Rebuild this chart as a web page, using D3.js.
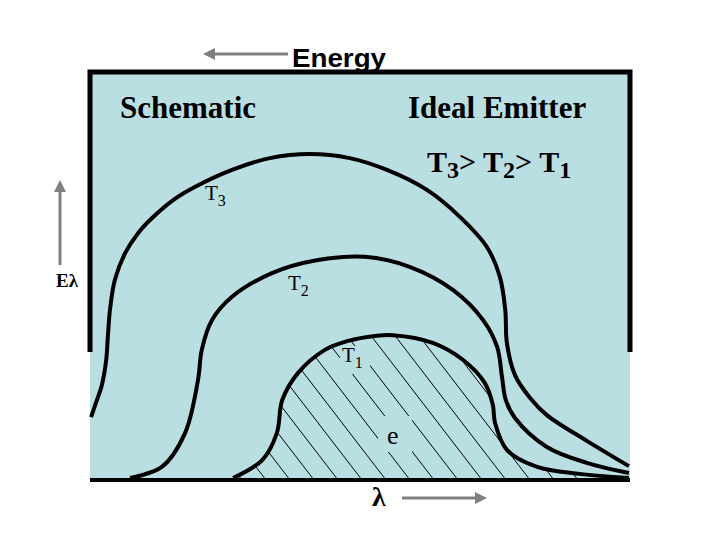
<!DOCTYPE html>
<html><head><meta charset="utf-8">
<script src="https://cdn.jsdelivr.net/npm/d3@7"></script>
<style>body{margin:0;background:#fff}</style>
</head><body>
<script>
// Curves (wavelength 0-100, spectral emissive power 0-100)
const curveNames = ["T3", "T2", "T1"];
const T3 = [[0.2,15.4],[1.1,18.9],[2.2,23.3],[3.0,29.4],[3.3,35.0],[3.7,41.7],[4.6,49.0],[6.5,55.6],[8.9,60.5],[11.5,64.2],[15.4,68.6],[19.4,71.8],[26.3,76.0],[33.3,78.9],[40.7,79.9],[48.1,78.9],[55.0,76.0],[62.4,71.1],[68.5,64.5],[73.5,57.1],[75.9,49.8],[76.9,41.7],[77.2,33.6],[78.7,25.7],[81.5,20.1],[84.6,15.9],[92.0,9.6],[99.8,3.4]];
const T2 = [[7.4,0.5],[13.3,3.2],[17.6,11.5],[20.0,24.5],[20.7,31.9],[22.6,39.2],[26.3,44.9],[33.7,50.7],[42.2,53.9],[50.9,54.7],[59.3,52.2],[67.2,46.6],[72.8,39.2],[75.4,32.6],[76.3,25.2],[77.0,19.6],[78.7,15.2],[84.6,8.1],[92.0,4.2],[99.8,1.7]];
const T1 = [[26.5,0.5],[31.9,4.9],[34.6,11.5],[35.6,19.6],[38.5,26.2],[43.5,31.9],[47.8,34.1],[52.8,35.3],[56.1,35.5],[63.5,33.6],[69.1,29.4],[73.1,23.8],[74.6,18.4],[75.0,14.0],[77.2,7.4],[82.8,3.2],[90.7,1.5],[99.8,0.5]];
const titleLeft = "Schematic";
const titleRight = "Ideal Emitter";
const topAxisLabel = "Energy";
const leftAxisLabel = "Eλ";
const bottomAxisLabel = "λ";

const W = 720, H = 540;
const x = d3.scaleLinear().domain([0, 100]).range([90, 630]);
const y = d3.scaleLinear().domain([0, 100]).range([480, 72]);

const svg = d3.select("body").append("svg").attr("width", W).attr("height", H);
const fill = "#badfe3";

const defs = svg.append("defs");
defs.append("marker").attr("id", "ah").attr("viewBox", "0 0 10 10")
  .attr("refX", 5).attr("refY", 5).attr("markerWidth", 4).attr("markerHeight", 4)
  .attr("orient", "auto-start-reverse").attr("markerUnits", "strokeWidth")
  .append("path").attr("d", "M0,0 L10,5 L0,10 z").attr("fill", "#808080");

// background panel
svg.append("rect").attr("x", x(0)).attr("y", y(100))
  .attr("width", x(100) - x(0)).attr("height", y(0) - y(100)).attr("fill", fill);

const line = d3.line().x(d => x(d[0])).y(d => y(d[1])).curve(d3.curveCatmullRom.alpha(0.5));

// hatched area under T1
const area = d3.area().x(d => x(d[0])).y0(y(0)).y1(d => y(d[1])).curve(d3.curveCatmullRom.alpha(0.5));
defs.append("clipPath").attr("id", "clipT1").append("path").attr("d", area(T1));
const hatch = svg.append("g").attr("clip-path", "url(#clipT1)");
const slope = 1.3, step = 24;
d3.range(x(0) - 400, x(100) + 40, step).forEach(b => {
  hatch.append("line").attr("x1", b - (y(0) - y(40)) / slope).attr("y1", y(40))
    .attr("x2", b).attr("y2", y(0)).attr("stroke", "#000").attr("stroke-width", 1);
});
// gaps behind labels inside hatch
hatch.append("rect").attr("x", 340).attr("y", 346).attr("width", 30).attr("height", 28).attr("fill", fill);
hatch.append("rect").attr("x", 378).attr("y", 416).attr("width", 34).attr("height", 36).attr("fill", fill);

// curves
[T3, T2, T1].forEach(c => {
  svg.append("path").attr("d", line(c)).attr("fill", "none")
    .attr("stroke", "#000").attr("stroke-width", 4);
});

// frame
const fr = svg.append("g").attr("stroke", "#000").attr("stroke-width", 5).attr("fill", "none");
fr.append("path").attr("d", `M${x(0)},${y(31.4)} L${x(0)},${y(100)} L${x(100)},${y(100)} L${x(100)},${y(31.4)}`)
  .attr("stroke-linejoin", "miter");
fr.append("line").attr("x1", x(0)).attr("x2", x(100)).attr("y1", y(0)).attr("y2", y(0)).attr("stroke-width", 4);

// arrows
const ar = svg.append("g").attr("stroke", "#808080").attr("stroke-width", 3);
ar.append("line").attr("x1", 288).attr("y1", 54).attr("x2", 209).attr("y2", 54).attr("marker-end", "url(#ah)");
ar.append("line").attr("x1", 402).attr("y1", 498).attr("x2", 481).attr("y2", 498).attr("marker-end", "url(#ah)");
ar.append("line").attr("x1", 60).attr("y1", 265).attr("x2", 60).attr("y2", 186).attr("marker-end", "url(#ah)");

// texts
const serif = "'Liberation Serif','Times New Roman',serif";
svg.append("text").attr("x", 292).attr("y", 67).attr("font-family", "'Liberation Sans',Arial,sans-serif")
  .attr("font-weight", "bold").attr("font-size", 25).attr("textLength", 94).attr("lengthAdjust", "spacingAndGlyphs")
  .text(topAxisLabel);
svg.append("text").attr("x", 120).attr("y", 118).attr("font-family", serif)
  .attr("font-weight", "bold").attr("font-size", 31).text(titleLeft);
svg.append("text").attr("x", 408).attr("y", 118).attr("font-family", serif)
  .attr("font-weight", "bold").attr("font-size", 31).text(titleRight);

function sub(xp, yp, main, s, size, subSize, bold) {
  const t = svg.append("text").attr("x", xp).attr("y", yp).attr("font-family", serif)
    .attr("font-size", size).attr("font-weight", bold ? "bold" : "normal");
  t.append("tspan").text(main);
  t.append("tspan").attr("font-size", subSize).attr("dy", size * 0.3).text(s);
  return t;
}
// T3> T2> T1
const rel = svg.append("text").attr("x", 427).attr("y", 172).attr("font-family", serif)
  .attr("font-size", 30).attr("font-weight", "bold");
[["T", curveNames[0].slice(1), "> "], ["T", curveNames[1].slice(1), "> "], ["T", curveNames[2].slice(1), ""]].forEach(p => {
  rel.append("tspan").attr("dy", 0).text(p[0]);
  rel.append("tspan").attr("font-size", 24).attr("dy", 6).text(p[1]);
  if (p[2]) rel.append("tspan").attr("dy", -6).text(p[2]);
});

sub(205, 200, "T", curveNames[0].slice(1), 21, 16, false);
sub(288, 290, "T", curveNames[1].slice(1), 21, 16, false);
sub(342, 362, "T", curveNames[2].slice(1), 21, 16, false);
svg.append("text").attr("x", 387).attr("y", 444).attr("font-family", serif).attr("font-size", 26).text("e");
svg.append("text").attr("x", 56).attr("y", 287).attr("font-family", serif).attr("font-weight", "bold")
  .attr("font-size", 19).text(leftAxisLabel);
svg.append("text").attr("x", 372).attr("y", 506).attr("font-family", serif).attr("font-weight", "bold")
  .attr("font-size", 28).text(bottomAxisLabel);
</script>
</body></html>
